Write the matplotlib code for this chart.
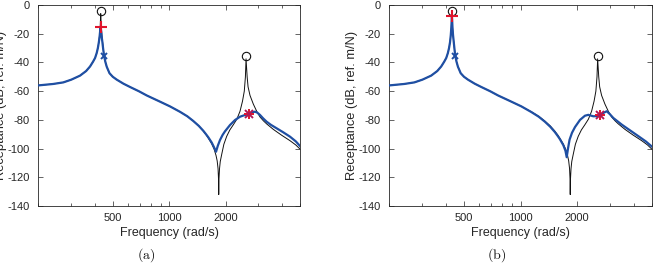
import matplotlib
matplotlib.use('Agg')
import matplotlib.pyplot as plt
from matplotlib.ticker import FixedLocator, FixedFormatter, LogLocator, NullFormatter

plt.rcParams['font.family'] = ['Liberation Sans', 'DejaVu Sans']
plt.rcParams['axes.unicode_minus'] = False
plt.rcParams['mathtext.fontset'] = 'cm'

# undamped (reference) receptance, same in both panels
black_f = [200, 240, 272, 300, 334, 360, 378, 392, 402, 410, 416, 421, 425, 428, 430, 431, 432,
           434, 437, 441, 445, 449, 456, 464, 480, 500, 525, 570, 618, 690, 759, 893, 1010,
           1143, 1250, 1346, 1440, 1522, 1580, 1620, 1688, 1740, 1780, 1805, 1825, 1835, 1840,
           1846, 1858, 1875, 1909, 1960, 2029, 2110, 2202, 2300, 2391, 2465, 2520, 2555, 2575,
           2610, 2640, 2704, 2816, 2935, 3058, 3185, 3318, 3600, 3755, 4000, 4422, 4750, 5000]
black_db = [-56, -55, -53.9, -52, -49.2, -46, -42.8, -39.5, -36.9, -33.5, -30, -26, -21, -15.5, -9,
            -6, -9, -15.5, -21, -26, -31, -35.3, -39.5, -43, -47.5, -50, -52, -54.8, -57.1, -60.1,
            -63, -67.3, -70.6, -74.4, -77.5, -80.8, -84.2, -87.8, -90.6, -92.8, -96.7, -100.5,
            -104.8, -108.5, -114, -121, -132, -121, -114, -109, -104, -97, -91.5, -87, -83.4,
            -79.5, -74, -67, -60, -50, -37.5, -50, -57, -63, -69, -74, -78, -80.6, -82.8, -86.6,
            -88.3, -90.8, -94.5, -97.5, -100.3]

# modified receptance, panel (a)
blue_a_f = [200, 240, 272, 300, 334, 360, 378, 392, 402, 410, 416, 421, 425, 428, 430.5, 433, 436,
            440, 444, 449, 456, 464, 480, 500, 525, 570, 618, 690, 759, 893, 1010, 1143, 1250,
            1346, 1440, 1522, 1580, 1620, 1688, 1740, 1780, 1820, 1870, 1930, 1987, 2114, 2249,
            2391, 2543, 2680, 2780, 2873, 2960, 3058, 3180, 3318, 3500, 3755, 4050, 4422, 4750,
            5000]
blue_a_db = [-56, -55, -53.9, -52, -49.2, -46, -42.8, -39.5, -36.9, -33.5, -30, -26, -22, -18, -15.2,
             -18, -22, -26, -30.5, -35.3, -39.5, -43, -47.5, -50, -52, -54.8, -57.1, -60.1, -63,
             -67.3, -70.6, -74.4, -77.5, -80.8, -84.2, -87.6, -90.3, -92.2, -95.8, -99.3, -102.2,
             -98, -94, -90.5, -88, -83.6, -80.1, -77.8, -76.6, -75.9, -74.8, -74.3, -75, -76.6,
             -79, -81.3, -83.5, -85.9, -88.5, -91.7, -95, -98.2]

# modified receptance, panel (b)
blue_b_f = [200, 240, 272, 300, 334, 360, 378, 392, 402, 410, 416, 421, 425, 428, 430, 431, 432,
            434, 437, 441, 445, 449, 456, 464, 480, 500, 525, 570, 618, 690, 759, 893, 1010,
            1143, 1250, 1346, 1440, 1522, 1580, 1620, 1690, 1735, 1762, 1790, 1825, 1880, 1951,
            2075, 2205, 2297, 2380, 2443, 2550, 2653, 2760, 2879, 2990, 3122, 3470, 3850, 4260,
            4650, 5000]
blue_b_db = [-56, -55, -53.9, -52, -49.2, -46, -42.8, -39.5, -36.9, -33.5, -30, -26, -21, -15.5, -10,
             -8, -10, -15.5, -21, -26, -31, -35.3, -39.5, -43, -47.5, -50, -52, -54.8, -57.1,
             -60.1, -63, -67.3, -70.6, -74.6, -77.8, -81.2, -84.8, -88.4, -91.3, -93.4, -97.6,
             -101.5, -106, -100, -93.8, -89, -85, -80, -77.1, -76.5, -77.1, -77.5, -77.4, -77,
             -75.2, -74, -76, -78.7, -83.4, -87.5, -91.5, -95, -98.5]

# markers
circle_f = [431, 2575]
circle_db = [-4.4, -35.8]
plus_db = {'a': -15, 'b': -8}
plus_f = 431
cross_f, cross_db = 449, -35.3
star_pts = {'a': (2680, -75.8), 'b': (2653, -76.5)}

xtick_vals = [500, 1000, 2000]
ytick_vals = list(range(-140, 1, 20))

BLUE = '#1f4fa3'
RED = '#e0142c'
TXT = '#262626'

fig = plt.figure(figsize=(6.55, 2.65), dpi=100)
positions = {'a': [0.0585, 0.2226, 0.3995, 0.7585], 'b': [0.5944, 0.2226, 0.4006, 0.7585]}
captions = {'a': (146, '(a)'), 'b': (497, '(b)')}
blues = {'a': (blue_a_f, blue_a_db), 'b': (blue_b_f, blue_b_db)}

for key in ['a', 'b']:
    ax = fig.add_axes(positions[key])
    ax.plot(black_f, black_db, color='#111111', lw=0.7, zorder=2)
    bf, bd = blues[key]
    ax.plot(bf, bd, color=BLUE, lw=1.6, zorder=3)

    ax.plot(circle_f, circle_db, 'o', ms=6, mfc='none', mec='#111111', mew=0.8, zorder=4)
    ax.plot([plus_f], [plus_db[key]], '+', ms=8, mec=RED, mew=1.5, zorder=5)
    ax.plot([cross_f], [cross_db], 'x', ms=5, mec=BLUE, mew=1.4, zorder=5)
    sf, sd = star_pts[key]
    ax.plot([sf], [sd], '+', ms=7, mec=RED, mew=1.4, zorder=5)
    ax.plot([sf], [sd], 'x', ms=5.5, mec='#b01858', mew=1.4, zorder=6)

    ax.set_xscale('log')
    ax.set_xlim(200, 5000)
    ax.set_ylim(-140, 0)
    ax.xaxis.set_major_locator(FixedLocator(xtick_vals))
    ax.xaxis.set_major_formatter(FixedFormatter([str(v) for v in xtick_vals]))
    ax.xaxis.set_minor_locator(LogLocator(base=10, subs=range(1, 10)))
    ax.xaxis.set_minor_formatter(NullFormatter())
    ax.set_yticks(ytick_vals)

    ax.tick_params(which='both', direction='in', top=True, right=True, colors=TXT,
                   labelsize=8, width=0.5)
    ax.tick_params(which='major', length=3.5)
    ax.tick_params(which='minor', length=2)
    ax.tick_params(axis='x', pad=5)
    ax.tick_params(axis='y', pad=6)
    for sp in ax.spines.values():
        sp.set_color(TXT)
        sp.set_linewidth(0.6)

    ax.set_xlabel('Frequency (rad/s)', fontsize=9, color=TXT)
    ax.set_ylabel('Receptance (dB, ref. m/N)', fontsize=9.3, color=TXT)
    ax.xaxis.set_label_coords(0.5, -0.105)
    ax.yaxis.set_label_coords(-0.121, 0.5)

    cx, txt = captions[key]
    fig.text(cx / 655, 1 - 255.5 / 265, r'$\mathrm{' + txt + '}$', ha='center', va='center',
             fontsize=10, color='#111111')

plt.savefig('out.png', dpi=100)
plt.close(fig)
